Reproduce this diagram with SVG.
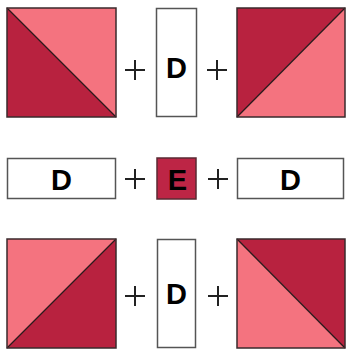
<svg xmlns="http://www.w3.org/2000/svg" width="347" height="354" viewBox="0 0 347 354">
<style>
.dark{fill:#b8223f}
.light{fill:#f4737f}
.frame{fill:none;stroke:#3a2a2c;stroke-width:1.5}
.diag{stroke:#2a1a1c;stroke-width:1.3}
.strip{fill:#ffffff;stroke:#555555;stroke-width:1.5}
.lbl{font-family:"Liberation Sans",Arial,sans-serif;font-weight:bold;font-size:29px;fill:#000;text-anchor:middle}
.plus{stroke:#222;stroke-width:2;fill:none}
</style>
<rect width="347" height="354" fill="#ffffff"/>
<g id="sq-top-left">
<polygon class="light" points="7,8 116,8 116,117"/>
<polygon class="dark" points="7,8 7,117 116,117"/>
<line class="diag" x1="7" y1="8" x2="116" y2="117"/>
<rect class="frame" x="7" y="8" width="109" height="109"/>
</g>
<g id="plus-1"><path class="plus" d="M125,70H145M135,60V80"/></g>
<g id="strip-top">
<rect class="strip" x="156.5" y="8.5" width="40" height="108"/>
<text class="lbl" x="176.5" y="78">D</text>
</g>
<g id="plus-2"><path class="plus" d="M207,70H227M217,60V80"/></g>
<g id="sq-top-right">
<polygon class="dark" points="237,8 345,8 237,117"/>
<polygon class="light" points="345,8 345,117 237,117"/>
<line class="diag" x1="237" y1="117" x2="345" y2="8"/>
<rect class="frame" x="237" y="8" width="108" height="109"/>
</g>
<g id="strip-mid-left">
<rect class="strip" x="7.5" y="158.5" width="108" height="40"/>
<text class="lbl" x="61.5" y="190">D</text>
</g>
<g id="plus-3"><path class="plus" d="M125,179H145M135,169V189"/></g>
<g id="sq-e">
<rect x="157" y="158" width="39" height="41" fill="#bd2545" stroke="#5a2a33" stroke-width="1.5"/>
<text class="lbl" x="177.5" y="190">E</text>
</g>
<g id="plus-4"><path class="plus" d="M208,179H228M218,169V189"/></g>
<g id="strip-mid-right">
<rect class="strip" x="237.5" y="158.5" width="106" height="40"/>
<text class="lbl" x="290.5" y="190">D</text>
</g>
<g id="sq-bottom-left">
<polygon class="light" points="7,239 116,239 7,348"/>
<polygon class="dark" points="116,239 116,348 7,348"/>
<line class="diag" x1="7" y1="348" x2="116" y2="239"/>
<rect class="frame" x="7" y="239" width="109" height="109"/>
</g>
<g id="plus-5"><path class="plus" d="M125,296H145M135,286V306"/></g>
<g id="strip-bottom">
<rect class="strip" x="157.5" y="239.5" width="38" height="108"/>
<text class="lbl" x="176.5" y="304">D</text>
</g>
<g id="plus-6"><path class="plus" d="M208,296H228M218,286V306"/></g>
<g id="sq-bottom-right">
<polygon class="dark" points="237,239 345,239 345,348"/>
<polygon class="light" points="237,239 237,348 345,348"/>
<line class="diag" x1="237" y1="239" x2="345" y2="348"/>
<rect class="frame" x="237" y="239" width="108" height="109"/>
</g>
</svg>
